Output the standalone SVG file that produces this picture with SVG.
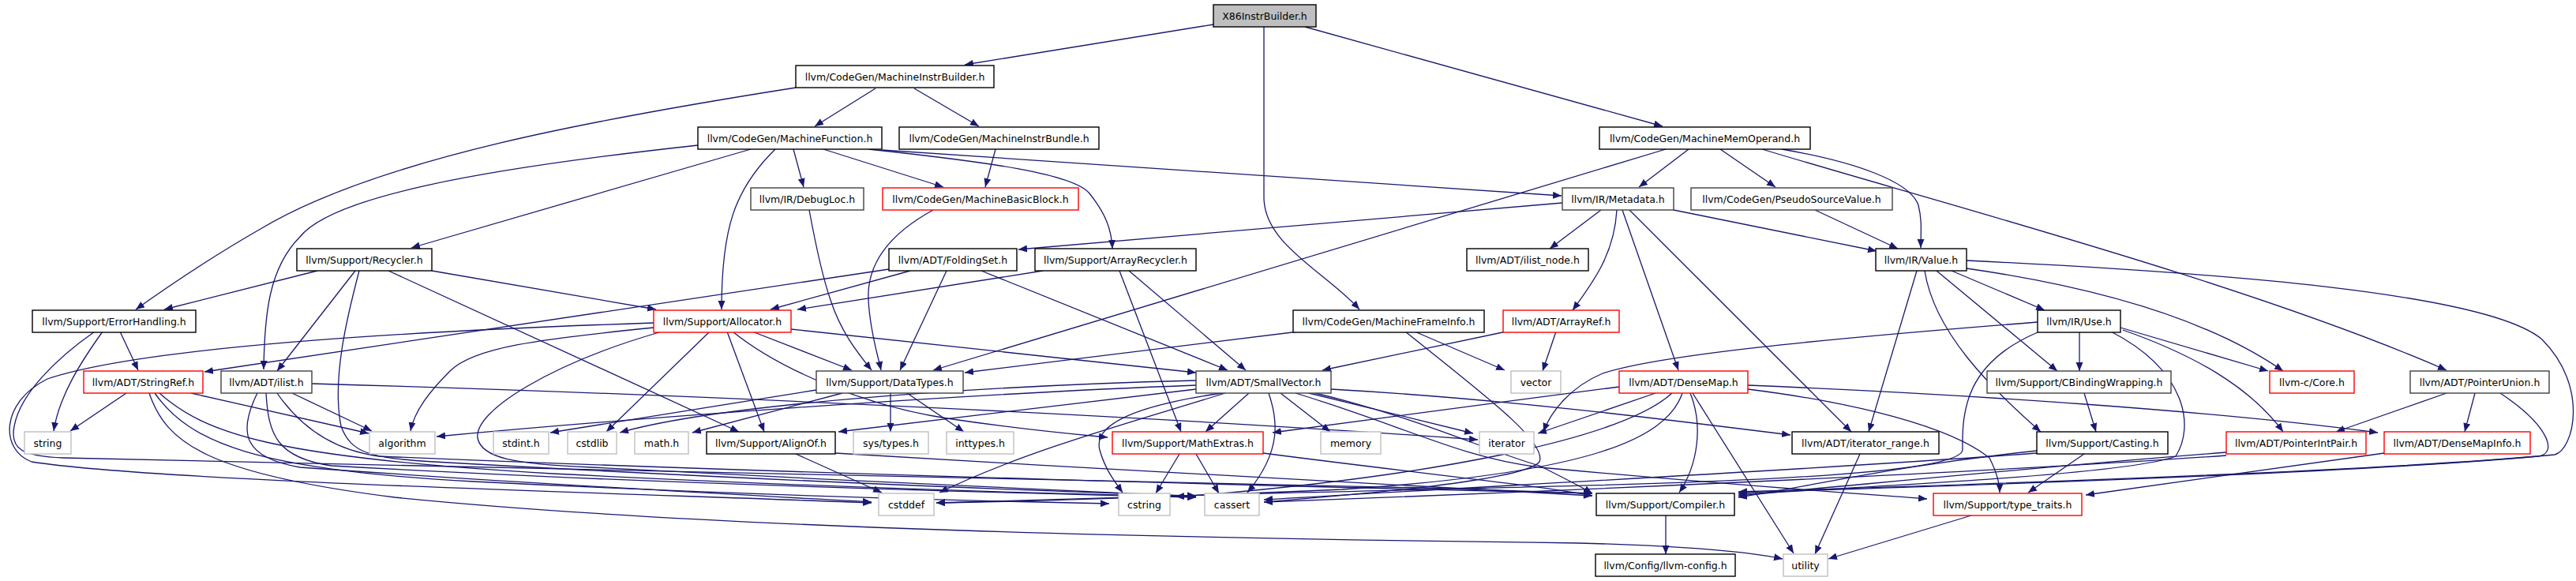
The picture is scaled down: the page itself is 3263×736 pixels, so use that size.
<svg xmlns="http://www.w3.org/2000/svg" width="3263" height="736" viewBox="0 0 3263 736">
<defs>
<marker id="a" markerUnits="userSpaceOnUse" markerWidth="12" markerHeight="10" refX="11" refY="4.5" orient="auto">
<path d="M0,0 L11,4.5 L0,9 z" fill="#191970"/>
</marker>
<style>
.e{fill:none;stroke:#191970;stroke-width:1.3;marker-end:url(#a)}
rect{fill:#fff;stroke-width:1.4}
.k rect{stroke:#000}
.d rect{stroke:#404040}
.r rect{stroke:#ff0000}
.g rect{stroke:#bfbfbf}
.root rect{fill:#bfbfbf;stroke:#000}
text{font-family:"DejaVu Sans","Liberation Sans",sans-serif;font-size:12.5px;text-anchor:middle;fill:#000}
</style>
</defs>
<rect x="0" y="0" width="3263" height="736" fill="#fff" stroke="none"/>
<g id="edges">
<path class="e" d="M1537,31 L1222,82"/>
<path class="e" d="M1601,34 L1601,250 C1601,310 1680,345 1722,392"/>
<path class="e" d="M1653,34 L2106,160"/>
<path class="e" d="M1109,112 L1032,160"/>
<path class="e" d="M1158,112 L1240,160"/>
<path class="e" d="M1008,111 C760,150 480,200 330,290 C260,330 210,365 172,392"/>
<path class="e" d="M884,184 C600,215 420,250 380,300 C340,340 335,400 334,468"/>
<path class="e" d="M951,189 L521,314"/>
<path class="e" d="M982,189 C930,240 914,290 914,392"/>
<path class="e" d="M1005,189 L1018,237"/>
<path class="e" d="M1043,189 L1195,237"/>
<path class="e" d="M1100,189 C1250,205 1360,220 1380,245 C1400,270 1408,290 1409,315"/>
<path class="e" d="M1117,190 L1978,248"/>
<path class="e" d="M1261,189 L1248,237"/>
<path class="e" d="M1182,266 C1120,300 1098,340 1100,380 C1102,420 1112,450 1116,469"/>
<path class="e" d="M1025,266 C1035,320 1045,360 1052,380 C1065,420 1085,445 1104,469"/>
<path class="e" d="M1199,343 L1140,469"/>
<path class="e" d="M2110,189 L1182,469"/>
<path class="e" d="M1645,420 L1222,472"/>
<path class="e" d="M953,420 L1079,469"/>
<path class="e" d="M2139,189 L2076,237"/>
<path class="e" d="M2179,189 L2249,237"/>
<path class="e" d="M2257,189 C2350,205 2420,230 2430,260 C2435,280 2433,295 2433,314"/>
<path class="e" d="M2232,189 C2450,255 2850,360 3099,469"/>
<path class="e" d="M2299,266 L2404,315"/>
<path class="e" d="M2120,266 L2377,318"/>
<path class="e" d="M1979,257 L1290,316"/>
<path class="e" d="M2028,266 L1963,315"/>
<path class="e" d="M2048,266 C2045,320 2020,355 1992,393"/>
<path class="e" d="M2055,266 L2126,469"/>
<path class="e" d="M2064,266 L2345,547"/>
<path class="e" d="M402,343 L208,392"/>
<path class="e" d="M450,343 L351,470"/>
<path class="e" d="M455,343 C440,400 420,480 432,540 C445,575 470,580 550,585 C900,605 1300,622 1515,628"/>
<path class="e" d="M492,343 L936,547"/>
<path class="e" d="M547,343 L831,392"/>
<path class="e" d="M1126,341 L259,471"/>
<path class="e" d="M1153,343 L976,392"/>
<path class="e" d="M1243,343 L1555,469"/>
<path class="e" d="M1321,343 L1010,392"/>
<path class="e" d="M1418,343 L1496,547"/>
<path class="e" d="M1430,343 L1578,469"/>
<path class="e" d="M152,420 L175,469"/>
<path class="e" d="M130,420 C105,455 75,500 68,546"/>
<path class="e" d="M120,420 C70,455 25,500 18,540 C12,570 30,578 80,580 C500,592 1300,605 1800,618 C1900,621 1970,623 2017,625"/>
<path class="e" d="M160,498 L89,546"/>
<path class="e" d="M242,498 L467,549"/>
<path class="e" d="M189,498 C210,560 260,600 500,630 C900,670 1500,682 2000,688 C2150,692 2220,700 2258,708"/>
<path class="e" d="M196,498 C240,560 320,595 600,610 C900,625 1200,634 1405,638"/>
<path class="e" d="M202,498 C260,550 350,580 700,600 C1000,615 1300,625 1515,629"/>
<path class="e" d="M395,486 C900,500 1500,530 1872,557"/>
<path class="e" d="M370,498 L471,546"/>
<path class="e" d="M326,498 C300,550 310,580 380,592 C700,615 1000,630 1104,636"/>
<path class="e" d="M337,498 C340,550 350,580 420,590 C800,612 1300,625 1515,630"/>
<path class="e" d="M351,498 C380,540 420,570 480,578 C1000,600 1700,618 2017,625"/>
<path class="e" d="M828,409 C500,420 180,440 60,480 C0,510 0,570 40,585 C200,610 800,625 1104,637"/>
<path class="e" d="M828,415 C680,430 600,440 570,470 C545,495 525,520 520,546"/>
<path class="e" d="M835,421 C700,460 600,520 605,555 C610,580 650,588 750,592 C1000,605 1300,620 1515,629"/>
<path class="e" d="M899,420 L768,547"/>
<path class="e" d="M921,420 L968,547"/>
<path class="e" d="M928,420 C990,470 1100,515 1200,530 C1300,545 1360,550 1403,554"/>
<path class="e" d="M1002,417 L1515,472"/>
<path class="e" d="M1034,494 L697,548"/>
<path class="e" d="M1067,498 L877,548"/>
<path class="e" d="M1128,498 L1128,547"/>
<path class="e" d="M1149,498 L1221,547"/>
<path class="e" d="M1548,498 C1430,515 1385,540 1393,570 C1400,595 1412,610 1422,624"/>
<path class="e" d="M1582,498 L1527,547"/>
<path class="e" d="M1607,498 C1618,530 1625,570 1580,624"/>
<path class="e" d="M1622,498 L1685,547"/>
<path class="e" d="M1658,498 L1866,549"/>
<path class="e" d="M1641,498 C1780,540 1850,580 1950,592 C2200,615 2350,625 2441,632"/>
<path class="e" d="M1666,498 C1800,530 1880,570 1950,590 C1980,605 2000,615 2017,625"/>
<path class="e" d="M1686,493 C1900,505 2100,530 2268,551"/>
<path class="e" d="M1515,488 C1200,500 800,530 553,553"/>
<path class="e" d="M1515,493 L1062,547"/>
<path class="e" d="M1515,482 C1200,490 900,515 785,548"/>
<path class="e" d="M1552,498 C1450,530 1300,570 1190,624"/>
<path class="e" d="M2214,488 C2500,500 2800,520 3012,548"/>
<path class="e" d="M2214,493 C2350,510 2470,540 2520,580 C2530,600 2533,612 2533,624"/>
<path class="e" d="M2141,498 C2158,540 2150,590 2127,624"/>
<path class="e" d="M2144,498 L2272,701"/>
<path class="e" d="M2097,498 L1948,549"/>
<path class="e" d="M2051,490 C1900,510 1700,535 1612,548"/>
<path class="e" d="M2118,498 C2050,560 1800,600 1600,620 C1540,626 1510,628 1489,629"/>
<path class="e" d="M2131,498 C2110,560 2000,600 1700,620 C1400,633 1250,636 1186,637"/>
<path class="e" d="M2581,408 C2300,430 2100,450 2030,473 C1990,490 1965,520 1955,547"/>
<path class="e" d="M2581,421 C2490,460 2485,520 2486,570 C2480,610 2000,615 1600,625 C1400,630 1250,634 1186,637"/>
<path class="e" d="M2674,420 C2770,470 2780,540 2756,578 C2700,600 2400,615 2202,626"/>
<path class="e" d="M2634,420 L2634,470"/>
<path class="e" d="M2686,415 L2873,470"/>
<path class="e" d="M2689,418 C2780,450 2850,490 2892,547"/>
<path class="e" d="M2640,498 L2655,547"/>
<path class="e" d="M2640,575 L2569,624"/>
<path class="e" d="M2580,571 C2400,590 2300,615 2202,630"/>
<path class="e" d="M2580,574 C2300,595 1900,615 1601,633"/>
<path class="e" d="M2820,573 C2600,590 2400,610 2202,628"/>
<path class="e" d="M2820,577 C2500,600 1900,625 1601,636"/>
<path class="e" d="M3099,498 L2959,547"/>
<path class="e" d="M3135,498 L3122,547"/>
<path class="e" d="M3167,498 C3230,540 3240,575 3215,578 C3000,598 2500,615 2202,624"/>
<path class="e" d="M3020,574 L2642,627"/>
<path class="e" d="M2491,330 C2800,345 3150,370 3220,430 C3280,490 3260,570 3236,576 C3000,598 2500,614 2202,623"/>
<path class="e" d="M2491,340 C2700,370 2820,420 2892,470"/>
<path class="e" d="M2472,343 L2590,393"/>
<path class="e" d="M2453,343 L2606,470"/>
<path class="e" d="M2438,343 C2450,420 2520,490 2585,547"/>
<path class="e" d="M2428,343 L2367,547"/>
<path class="e" d="M2356,575 L2299,702"/>
<path class="e" d="M2497,653 L2316,708"/>
<path class="e" d="M2110,653 L2110,702"/>
<path class="e" d="M1792,420 L1906,469"/>
<path class="e" d="M1780,420 C1880,500 1960,560 1950,585 C1930,610 1700,628 1601,636"/>
<path class="e" d="M1971,420 L1954,470"/>
<path class="e" d="M1908,420 L1675,469"/>
<path class="e" d="M1494,575 L1464,625"/>
<path class="e" d="M1515,575 L1544,625"/>
<path class="e" d="M1600,574 C1800,600 1950,615 2017,628"/>
<path class="e" d="M1008,575 L1117,624"/>
<path class="e" d="M1058,574 C1400,595 1800,615 2017,628"/>
</g>
<g id="n0" class="root"><rect x="1537" y="6" width="130" height="28"/><text x="1602" y="25">X86InstrBuilder.h</text></g>
<g id="n1" class="k"><rect x="1008" y="83" width="251" height="28"/><text x="1133.5" y="102">llvm/CodeGen/MachineInstrBuilder.h</text></g>
<g id="n2" class="k"><rect x="884" y="161" width="233" height="28"/><text x="1000.5" y="180">llvm/CodeGen/MachineFunction.h</text></g>
<g id="n3" class="k"><rect x="1139" y="161" width="253" height="28"/><text x="1265.5" y="180">llvm/CodeGen/MachineInstrBundle.h</text></g>
<g id="n4" class="k"><rect x="2026" y="161" width="267" height="28"/><text x="2159.5" y="180">llvm/CodeGen/MachineMemOperand.h</text></g>
<g id="n5" class="d"><rect x="951" y="238" width="143" height="28"/><text x="1022.5" y="257">llvm/IR/DebugLoc.h</text></g>
<g id="n6" class="r"><rect x="1118" y="238" width="248" height="28"/><text x="1242" y="257">llvm/CodeGen/MachineBasicBlock.h</text></g>
<g id="n7" class="d"><rect x="1979" y="238" width="141" height="28"/><text x="2049.5" y="257">llvm/IR/Metadata.h</text></g>
<g id="n8" class="d"><rect x="2142" y="238" width="255" height="28"/><text x="2269.5" y="257">llvm/CodeGen/PseudoSourceValue.h</text></g>
<g id="n9" class="k"><rect x="376" y="315" width="171" height="28"/><text x="461.5" y="334">llvm/Support/Recycler.h</text></g>
<g id="n10" class="k"><rect x="1126" y="315" width="162" height="28"/><text x="1207" y="334">llvm/ADT/FoldingSet.h</text></g>
<g id="n11" class="k"><rect x="1311" y="315" width="204" height="28"/><text x="1413" y="334">llvm/Support/ArrayRecycler.h</text></g>
<g id="n12" class="k"><rect x="1858" y="315" width="154" height="28"/><text x="1935" y="334">llvm/ADT/ilist_node.h</text></g>
<g id="n13" class="k"><rect x="2376" y="315" width="115" height="28"/><text x="2433.5" y="334">llvm/IR/Value.h</text></g>
<g id="n14" class="k"><rect x="41" y="393" width="207" height="28"/><text x="144.5" y="412">llvm/Support/ErrorHandling.h</text></g>
<g id="n15" class="r"><rect x="828" y="393" width="174" height="28"/><text x="915" y="412">llvm/Support/Allocator.h</text></g>
<g id="n16" class="k"><rect x="1638" y="393" width="242" height="28"/><text x="1759" y="412">llvm/CodeGen/MachineFrameInfo.h</text></g>
<g id="n17" class="r"><rect x="1904" y="393" width="147" height="28"/><text x="1977.5" y="412">llvm/ADT/ArrayRef.h</text></g>
<g id="n18" class="k"><rect x="2581" y="393" width="105" height="28"/><text x="2633.5" y="412">llvm/IR/Use.h</text></g>
<g id="n19" class="r"><rect x="106" y="470" width="151" height="28"/><text x="181.5" y="489">llvm/ADT/StringRef.h</text></g>
<g id="n20" class="d"><rect x="280" y="470" width="115" height="28"/><text x="337.5" y="489">llvm/ADT/ilist.h</text></g>
<g id="n21" class="d"><rect x="1034" y="470" width="186" height="28"/><text x="1127" y="489">llvm/Support/DataTypes.h</text></g>
<g id="n22" class="d"><rect x="1515" y="470" width="171" height="28"/><text x="1600.5" y="489">llvm/ADT/SmallVector.h</text></g>
<g id="n23" class="g"><rect x="1914" y="470" width="63" height="28"/><text x="1945.5" y="489">vector</text></g>
<g id="n24" class="r"><rect x="2051" y="470" width="163" height="28"/><text x="2132.5" y="489">llvm/ADT/DenseMap.h</text></g>
<g id="n25" class="d"><rect x="2517" y="470" width="233" height="28"/><text x="2633.5" y="489">llvm/Support/CBindingWrapping.h</text></g>
<g id="n26" class="r"><rect x="2875" y="470" width="107" height="28"/><text x="2928.5" y="489">llvm-c/Core.h</text></g>
<g id="n27" class="d"><rect x="3053" y="470" width="176" height="28"/><text x="3141" y="489">llvm/ADT/PointerUnion.h</text></g>
<g id="n28" class="g"><rect x="31" y="547" width="59" height="28"/><text x="60.5" y="566">string</text></g>
<g id="n29" class="g"><rect x="468" y="547" width="83" height="28"/><text x="509.5" y="566">algorithm</text></g>
<g id="n30" class="g"><rect x="625" y="547" width="70" height="28"/><text x="660" y="566">stdint.h</text></g>
<g id="n31" class="g"><rect x="719" y="547" width="62" height="28"/><text x="750" y="566">cstdlib</text></g>
<g id="n32" class="g"><rect x="804" y="547" width="68" height="28"/><text x="838" y="566">math.h</text></g>
<g id="n33" class="k"><rect x="895" y="547" width="163" height="28"/><text x="976.5" y="566">llvm/Support/AlignOf.h</text></g>
<g id="n34" class="g"><rect x="1081" y="547" width="95" height="28"/><text x="1128.5" y="566">sys/types.h</text></g>
<g id="n35" class="g"><rect x="1199" y="547" width="85" height="28"/><text x="1241.5" y="566">inttypes.h</text></g>
<g id="n36" class="r"><rect x="1409" y="547" width="191" height="28"/><text x="1504.5" y="566">llvm/Support/MathExtras.h</text></g>
<g id="n37" class="g"><rect x="1673" y="547" width="76" height="28"/><text x="1711" y="566">memory</text></g>
<g id="n38" class="g"><rect x="1874" y="547" width="69" height="28"/><text x="1908.5" y="566">iterator</text></g>
<g id="n39" class="k"><rect x="2270" y="547" width="186" height="28"/><text x="2363" y="566">llvm/ADT/iterator_range.h</text></g>
<g id="n40" class="k"><rect x="2580" y="547" width="166" height="28"/><text x="2663" y="566">llvm/Support/Casting.h</text></g>
<g id="n41" class="r"><rect x="2820" y="547" width="177" height="28"/><text x="2908.5" y="566">llvm/ADT/PointerIntPair.h</text></g>
<g id="n42" class="r"><rect x="3020" y="547" width="185" height="28"/><text x="3112.5" y="566">llvm/ADT/DenseMapInfo.h</text></g>
<g id="n43" class="g"><rect x="1113" y="625" width="70" height="28"/><text x="1148" y="644">cstddef</text></g>
<g id="n44" class="g"><rect x="1417" y="625" width="65" height="28"/><text x="1449.5" y="644">cstring</text></g>
<g id="n45" class="g"><rect x="1526" y="625" width="69" height="28"/><text x="1560.5" y="644">cassert</text></g>
<g id="n46" class="k"><rect x="2022" y="625" width="175" height="28"/><text x="2109.5" y="644">llvm/Support/Compiler.h</text></g>
<g id="n47" class="r"><rect x="2449" y="625" width="188" height="28"/><text x="2543" y="644">llvm/Support/type_traits.h</text></g>
<g id="n48" class="k"><rect x="2021" y="702" width="177" height="28"/><text x="2109.5" y="721">llvm/Config/llvm-config.h</text></g>
<g id="n49" class="g"><rect x="2259" y="702" width="56" height="28"/><text x="2287" y="721">utility</text></g>
</svg>
